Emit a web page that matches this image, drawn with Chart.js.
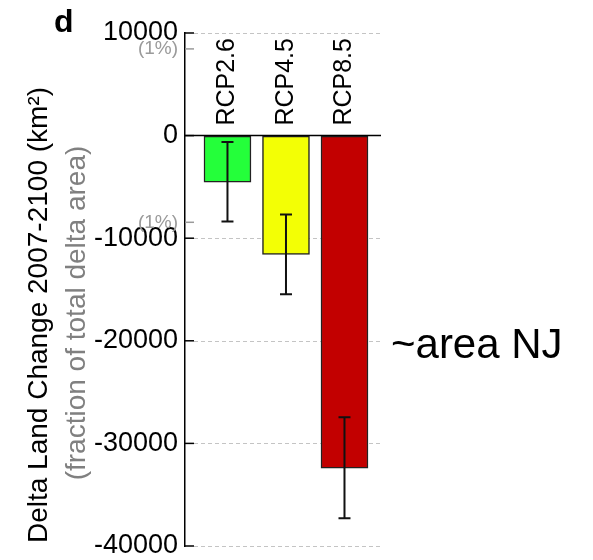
<!DOCTYPE html>
<html>
<head>
<meta charset="utf-8">
<script src="https://cdn.jsdelivr.net/npm/chart.js@4"></script>
<style>
	html, body { margin: 0; padding: 0; background: #fff; }
	#wrap { width: 593px; height: 560px; position: relative; }
</style>
</head>
<body>
<div id="wrap"><canvas id="chart" width="593" height="560"></canvas></div>
<script>
// data (km²)
var categories = ["RCP2.6", "RCP4.5", "RCP8.5"];
var barX = [1, 2, 3];
var landChange = [-4550, -11570, -32420];
var errTop = [-620, -7700, -27450];
var errBottom = [-8380, -15470, -37300];
var barColors = ["#24ff3a", "#f3ff05", "#c20000"];
var yTicks = [10000, 0, -10000, -20000, -30000, -40000];
var onePercent = [8450, -8450];

var FONT = "'Liberation Sans', Arial, sans-serif";

var extras = {
	id: "extras",
	beforeDatasetsDraw: function (chart) {
		var ctx = chart.ctx;
		var area = chart.chartArea;
		var y = chart.scales.y;
		ctx.save();
		ctx.strokeStyle = "#c4c4c4";
		ctx.lineWidth = 1;
		ctx.setLineDash([4, 3]);
		yTicks.forEach(function (v) {
			if (v === 0) return;
			var py = Math.round(y.getPixelForValue(v)) + 0.5;
			ctx.beginPath();
			ctx.moveTo(area.left + 9, py);
			ctx.lineTo(area.right, py);
			ctx.stroke();
		});
		ctx.restore();
	},
	afterDatasetsDraw: function (chart) {
		var ctx = chart.ctx;
		var area = chart.chartArea;
		var x = chart.scales.x;
		var y = chart.scales.y;
		ctx.save();

		// zero line
		var y0 = y.getPixelForValue(0);
		ctx.strokeStyle = "#000";
		ctx.lineWidth = 1.5;
		ctx.beginPath();
		ctx.moveTo(area.left, y0);
		ctx.lineTo(area.right, y0);
		ctx.stroke();

		// inward tick marks
		yTicks.forEach(function (v) {
			var py = y.getPixelForValue(v);
			ctx.beginPath();
			ctx.moveTo(area.left, py);
			ctx.lineTo(area.left + 9, py);
			ctx.stroke();
		});

		// error bars
		ctx.strokeStyle = "#111";
		ctx.lineWidth = 2;
		for (var i = 0; i < categories.length; i++) {
			var px = x.getPixelForValue(barX[i]);
			var t = y.getPixelForValue(errTop[i]);
			var b = y.getPixelForValue(errBottom[i]);
			ctx.beginPath();
			ctx.moveTo(px, t);
			ctx.lineTo(px, b);
			ctx.moveTo(px - 6, t);
			ctx.lineTo(px + 6, t);
			ctx.moveTo(px - 6, b);
			ctx.lineTo(px + 6, b);
			ctx.stroke();
		}

		// 1% marks
		ctx.strokeStyle = "#9a9a9a";
		ctx.fillStyle = "#9a9a9a";
		ctx.lineWidth = 1.5;
		ctx.font = "19px " + FONT;
		ctx.textAlign = "right";
		ctx.textBaseline = "middle";
		onePercent.forEach(function (v) {
			var py = y.getPixelForValue(v);
			ctx.beginPath();
			ctx.moveTo(area.left, py);
			ctx.lineTo(area.left + 9, py);
			ctx.stroke();
			ctx.fillText("(1%)", area.left - 7, py);
		});

		// category labels, vertical above the bars
		ctx.fillStyle = "#000";
		ctx.font = "25px " + FONT;
		ctx.textAlign = "left";
		ctx.textBaseline = "alphabetic";
		for (var j = 0; j < categories.length; j++) {
			ctx.save();
			ctx.translate(x.getPixelForValue(barX[j]) + 7, y0 - 10);
			ctx.rotate(-Math.PI / 2);
			ctx.fillText(categories[j], 0, 0);
			ctx.restore();
		}

		// axis titles
		ctx.textAlign = "center";
		ctx.font = "28px " + FONT;
		ctx.save();
		ctx.translate(47, 315);
		ctx.rotate(-Math.PI / 2);
		ctx.fillStyle = "#000";
		ctx.fillText("Delta Land Change 2007-2100 (km²)", 0, 0);
		ctx.restore();
		ctx.save();
		ctx.translate(85, 313);
		ctx.rotate(-Math.PI / 2);
		ctx.fillStyle = "#808080";
		ctx.fillText("(fraction of total delta area)", 0, 0);
		ctx.restore();

		// panel letter and note
		ctx.textAlign = "left";
		ctx.fillStyle = "#000";
		ctx.font = "bold 32px " + FONT;
		ctx.fillText("d", 54, 32);
		ctx.font = "42px " + FONT;
		ctx.fillText("~area NJ", 391, 358);

		ctx.restore();
	},
};

new Chart(document.getElementById("chart"), {
	type: "bar",
	data: {
		datasets: [
			{
				data: barX.map(function (xv, i) {
					return { x: xv, y: landChange[i] };
				}),
				backgroundColor: barColors,
				borderColor: "#222",
				borderWidth: 1.5,
				borderSkipped: false,
				barThickness: 47,
			},
		],
	},
	options: {
		responsive: false,
		animation: false,
		layout: {
			padding: { left: 0, right: 212, top: 33, bottom: 14 },
		},
		plugins: {
			legend: { display: false },
			tooltip: { enabled: false },
		},
		scales: {
			x: {
				type: "linear",
				display: false,
				offset: false,
				min: 0.274,
				max: 3.624,
			},
			y: {
				min: -40000,
				max: 10000,
				afterFit: function (axis) {
					axis.width = 185;
					axis.paddingTop = 0;
					axis.paddingBottom = 0;
				},
				grid: {
					display: true,
					drawOnChartArea: false,
					drawTicks: false,
				},
				border: {
					display: true,
					color: "#000",
					width: 1.5,
				},
				ticks: {
					stepSize: 10000,
					padding: 7,
					color: "#000",
					font: { family: FONT, size: 27 },
					callback: function (value) {
						return String(value);
					},
				},
			},
		},
	},
	plugins: [extras],
});
</script>
</body>
</html>
